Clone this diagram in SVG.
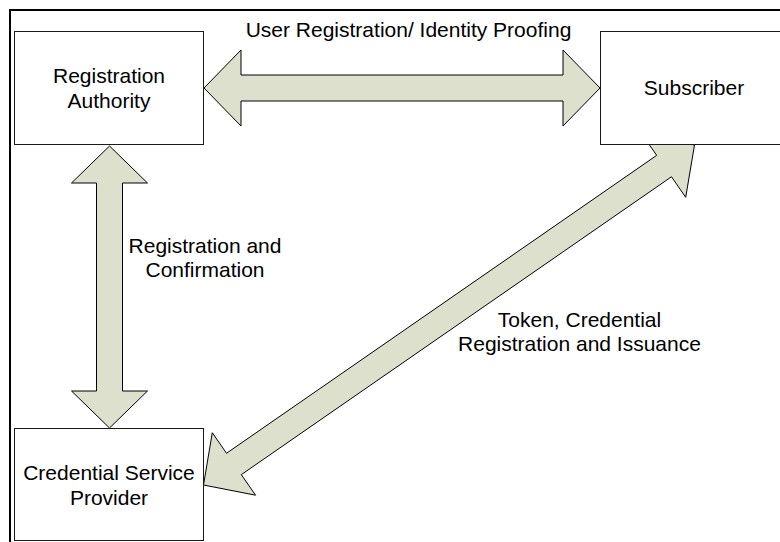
<svg xmlns="http://www.w3.org/2000/svg" width="780" height="542" viewBox="0 0 780 542">
<style>
.box{fill:#ffffff;stroke:#1a1a1a;stroke-width:1}
.arrow{fill:#dde0cc;stroke:#000000;stroke-width:1;stroke-linejoin:miter}
.lbl{font-family:"Liberation Sans",Arial,sans-serif;font-size:21px;fill:#000000;text-anchor:middle}
.frame{fill:none;stroke:#000000;stroke-width:2}
</style>
<rect x="0" y="0" width="780" height="542" fill="#ffffff"/>
<rect class="frame" x="10" y="10" width="800" height="600"/>
<g id="connectors">
<polygon id="arrow-ra-sub" class="arrow" points="204,88 241,50 241,75 563,75 563,50 600,88 563,126 563,101 241,101 241,126"/>
<polygon id="arrow-ra-csp" class="arrow" points="109.5,146 147.5,183 122.5,183 122.5,391 147.5,391 109.5,428 71.5,391 96.5,391 96.5,183 71.5,183"/>
<polygon id="arrow-csp-sub" class="arrow" points="203.5,485 255.55,495.18 241.32,474.63 671.48,176.75 685.71,197.3 694.5,145 642.45,134.82 656.68,155.37 226.52,453.25 212.29,432.7"/>
<text class="lbl" x="408.5" y="37">User Registration/ Identity Proofing</text>
<text class="lbl" x="205" y="253">Registration and</text>
<text class="lbl" x="205" y="277">Confirmation</text>
<text class="lbl" x="579.5" y="327">Token, Credential</text>
<text class="lbl" x="579.5" y="351">Registration and Issuance</text>
</g>
<g id="registration-authority">
<rect class="box" x="14.5" y="31.5" width="189" height="113"/>
<text class="lbl" x="109" y="83">Registration</text>
<text class="lbl" x="109" y="108">Authority</text>
</g>
<g id="subscriber">
<rect class="box" x="600.5" y="31.5" width="189" height="113"/>
<text class="lbl" x="694" y="95">Subscriber</text>
</g>
<g id="credential-service-provider">
<rect class="box" x="14.5" y="428.5" width="189" height="112"/>
<text class="lbl" x="109" y="480">Credential Service</text>
<text class="lbl" x="109" y="505">Provider</text>
</g>
</svg>
